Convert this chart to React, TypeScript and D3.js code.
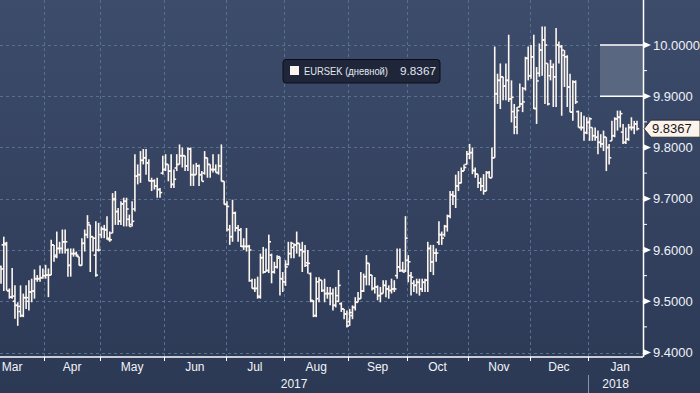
import React from 'react';
import * as d3 from 'd3';

const opens = [
  9.567,9.610,9.610,9.520,9.508,9.500,9.492,9.480,9.472,9.507,
  9.500,9.518,9.520,9.544,9.544,9.546,9.550,9.551,9.551,9.610,
  9.590,9.603,9.603,9.616,9.600,9.570,9.593,9.593,9.587,9.570,
  9.613,9.630,9.649,9.626,9.590,9.600,9.630,9.641,9.640,9.620,
  9.633,9.700,9.675,9.656,9.690,9.695,9.660,9.650,9.680,9.744,
  9.747,9.775,9.780,9.770,9.735,9.735,9.725,9.718,9.750,9.757,
  9.767,9.754,9.728,9.760,9.767,9.784,9.784,9.764,9.797,9.747,
  9.747,9.764,9.747,9.750,9.780,9.767,9.757,9.757,9.751,9.764,
  9.734,9.689,9.640,9.626,9.672,9.643,9.639,9.607,9.607,9.607,
  9.540,9.525,9.525,9.508,9.585,9.557,9.560,9.590,9.557,9.567,
  9.587,9.544,9.538,9.572,9.593,9.605,9.610,9.613,9.600,9.597,
  9.575,9.554,9.500,9.472,9.538,9.541,9.521,9.515,9.515,9.515,
  9.492,9.500,9.495,9.485,9.475,9.460,9.472,9.488,9.498,9.505,
  9.520,9.548,9.574,9.551,9.525,9.528,9.511,9.515,9.531,9.524,
  9.521,9.524,9.550,9.567,9.560,9.560,9.580,9.550,9.535,9.531,
  9.537,9.524,9.537,9.541,9.603,9.577,9.594,9.615,9.630,9.630,
  9.646,9.666,9.708,9.705,9.725,9.731,9.754,9.767,9.787,9.790,
  9.755,9.748,9.731,9.725,9.715,9.751,9.741,9.780,9.905,9.931,
  9.938,9.920,9.931,9.895,9.870,9.840,9.879,9.885,9.915,9.974,
  9.940,9.977,9.876,9.945,9.990,10.010,9.964,9.940,9.957,9.938,
  10.000,9.997,9.980,9.977,9.918,9.869,9.928,9.870,9.839,9.839,
  9.829,9.849,9.839,9.823,9.820,9.810,9.807,9.820,9.800,9.813,
  9.823,9.856,9.859,9.830,9.810,9.816,9.839,9.839,9.846
];

const highs = [
  9.570,9.626,9.616,9.525,9.565,9.531,9.498,9.531,9.515,9.531,
  9.541,9.544,9.562,9.551,9.570,9.564,9.571,9.564,9.620,9.610,
  9.636,9.616,9.640,9.640,9.603,9.603,9.603,9.597,9.587,9.623,
  9.640,9.668,9.649,9.626,9.656,9.653,9.646,9.649,9.666,9.636,
  9.711,9.715,9.682,9.695,9.702,9.702,9.669,9.695,9.787,9.767,
  9.793,9.797,9.797,9.777,9.741,9.738,9.741,9.721,9.784,9.787,
  9.767,9.787,9.757,9.787,9.806,9.800,9.784,9.800,9.800,9.767,
  9.770,9.767,9.754,9.793,9.780,9.767,9.787,9.767,9.787,9.806,
  9.734,9.695,9.649,9.698,9.675,9.649,9.643,9.623,9.643,9.610,
  9.544,9.544,9.548,9.593,9.606,9.603,9.630,9.593,9.577,9.590,
  9.587,9.557,9.580,9.616,9.616,9.613,9.636,9.613,9.616,9.610,
  9.600,9.556,9.502,9.547,9.547,9.541,9.544,9.528,9.528,9.525,
  9.528,9.561,9.498,9.485,9.482,9.485,9.492,9.508,9.518,9.557,
  9.554,9.590,9.574,9.551,9.547,9.531,9.528,9.541,9.541,9.531,
  9.544,9.541,9.603,9.603,9.577,9.666,9.590,9.557,9.541,9.544,
  9.544,9.544,9.544,9.616,9.610,9.610,9.603,9.656,9.636,9.649,
  9.669,9.715,9.715,9.747,9.754,9.761,9.767,9.793,9.807,9.800,
  9.761,9.748,9.741,9.748,9.754,9.754,9.800,9.997,9.944,9.964,
  9.938,9.964,10.020,9.931,9.885,9.879,9.925,9.918,9.977,9.997,
  10.000,10.020,9.957,10.003,10.036,10.036,9.964,9.971,9.964,10.033,
  10.007,10.000,9.990,9.980,9.944,9.931,9.931,9.872,9.869,9.862,
  9.859,9.859,9.839,9.839,9.833,9.826,9.833,9.820,9.807,9.852,
  9.859,9.872,9.872,9.846,9.839,9.846,9.859,9.852,9.852
];

const lows = [
  9.534,9.520,9.521,9.505,9.505,9.466,9.452,9.469,9.469,9.485,
  9.482,9.498,9.505,9.538,9.538,9.544,9.544,9.508,9.551,9.577,
  9.584,9.593,9.593,9.593,9.548,9.548,9.587,9.587,9.570,9.570,
  9.597,9.623,9.557,9.597,9.548,9.597,9.623,9.623,9.620,9.616,
  9.633,9.649,9.649,9.649,9.646,9.646,9.646,9.646,9.675,9.728,
  9.731,9.767,9.747,9.734,9.715,9.718,9.702,9.702,9.747,9.754,
  9.734,9.721,9.721,9.754,9.767,9.761,9.754,9.754,9.725,9.725,
  9.747,9.725,9.734,9.747,9.741,9.741,9.751,9.751,9.747,9.734,
  9.689,9.636,9.610,9.616,9.636,9.616,9.606,9.600,9.597,9.538,
  9.525,9.518,9.505,9.505,9.554,9.557,9.555,9.535,9.554,9.564,
  9.511,9.518,9.530,9.570,9.584,9.584,9.593,9.587,9.557,9.567,
  9.554,9.498,9.469,9.469,9.498,9.518,9.498,9.505,9.492,9.482,
  9.488,9.498,9.479,9.465,9.449,9.452,9.465,9.482,9.498,9.505,
  9.518,9.531,9.531,9.521,9.515,9.502,9.498,9.515,9.508,9.505,
  9.515,9.518,9.544,9.557,9.557,9.557,9.537,9.511,9.518,9.515,
  9.511,9.518,9.518,9.518,9.557,9.551,9.577,9.610,9.610,9.626,
  9.636,9.662,9.688,9.682,9.715,9.730,9.754,9.767,9.777,9.748,
  9.741,9.721,9.715,9.708,9.715,9.741,9.741,9.780,9.885,9.875,
  9.892,9.892,9.889,9.849,9.826,9.826,9.879,9.869,9.911,9.931,
  9.934,9.875,9.846,9.938,9.940,9.885,9.882,9.931,9.879,9.879,
  9.964,9.862,9.918,9.879,9.869,9.852,9.885,9.839,9.833,9.813,
  9.826,9.813,9.813,9.813,9.787,9.800,9.793,9.754,9.767,9.813,
  9.820,9.833,9.839,9.807,9.807,9.813,9.833,9.826,9.833
];

const closes = [
  9.563,9.613,9.521,9.508,9.510,9.492,9.490,9.472,9.507,9.507,
  9.518,9.520,9.544,9.544,9.546,9.550,9.551,9.551,9.610,9.587,
  9.603,9.603,9.616,9.616,9.570,9.593,9.593,9.590,9.570,9.613,
  9.630,9.653,9.626,9.623,9.551,9.600,9.641,9.639,9.623,9.620,
  9.698,9.675,9.656,9.690,9.695,9.680,9.646,9.656,9.744,9.747,
  9.775,9.780,9.770,9.735,9.735,9.725,9.718,9.712,9.757,9.767,
  9.754,9.728,9.738,9.767,9.784,9.784,9.764,9.797,9.747,9.747,
  9.764,9.747,9.734,9.780,9.767,9.757,9.757,9.751,9.764,9.734,
  9.689,9.685,9.626,9.672,9.643,9.639,9.607,9.607,9.607,9.600,
  9.525,9.525,9.510,9.585,9.557,9.560,9.616,9.557,9.567,9.584,
  9.544,9.538,9.567,9.593,9.613,9.610,9.613,9.600,9.597,9.570,
  9.574,9.502,9.472,9.505,9.541,9.521,9.515,9.515,9.515,9.492,
  9.511,9.531,9.485,9.475,9.452,9.478,9.488,9.498,9.505,9.520,
  9.548,9.574,9.551,9.525,9.528,9.511,9.515,9.531,9.524,9.521,
  9.524,9.524,9.567,9.560,9.557,9.623,9.577,9.547,9.531,9.537,
  9.524,9.537,9.541,9.603,9.577,9.594,9.594,9.630,9.623,9.646,
  9.666,9.708,9.705,9.725,9.731,9.754,9.761,9.787,9.790,9.755,
  9.748,9.731,9.725,9.715,9.751,9.741,9.780,9.905,9.931,9.938,
  9.920,9.931,9.895,9.898,9.859,9.872,9.885,9.889,9.974,9.940,
  9.977,9.876,9.930,9.990,10.010,10.000,9.885,9.957,9.938,10.000,
  9.997,9.990,9.977,9.918,9.869,9.928,9.889,9.839,9.839,9.829,
  9.849,9.856,9.823,9.820,9.810,9.807,9.820,9.800,9.780,9.823,
  9.856,9.859,9.866,9.810,9.816,9.839,9.839,9.846,9.8367
];

const yTicks = [9.4, 9.5, 9.6, 9.7, 9.8, 9.9, 10.0];
const yMinorTicks = [9.45, 9.55, 9.65, 9.75, 9.85, 9.95];
const firstDate = [2017, 2, 10];
const seriesLabel = 'EURSEK (дневной)';
const lastLabel = '9.8367';
const lastValue = 9.8367;
const bandRange = [9.9, 10.0];

const FONT = '"Liberation Sans", Arial, sans-serif';

export default function App() {
  const W = 700, H = 393;
  const axisX = 643;
  const axisY = 357;
  const n = closes.length;
  const x = d3.scaleLinear().domain([0, n - 1]).range([1, 637]);
  const y = d3.scaleLinear().domain([9.4, 10.0]).range([352.5, 45]);

  const isWd = (d: Date) => d.getDay() !== 0 && d.getDay() !== 6;
  const start = new Date(firstDate[0], firstDate[1], firstDate[2]);
  const dates: Date[] = [];
  let cur = start;
  while (dates.length < n) {
    if (isWd(cur)) dates.push(cur);
    cur = d3.timeDay.offset(cur, 1);
  }
  const wdIndex = (d: Date) => {
    if (d >= start) {
      return d3.timeDay.range(start, d).filter(isWd).length;
    }
    return -d3.timeDay.range(d, start).filter(isWd).length;
  };

  const bounds: number[] = [];
  for (let i = 1; i < n; i++) {
    if (dates[i].getMonth() !== dates[i - 1].getMonth()) bounds.push(i - 0.5);
  }
  const months = d3.timeMonth.range(
    d3.timeMonth.floor(dates[0]),
    d3.timeMonth.offset(d3.timeMonth.floor(dates[n - 1]), 1)
  );
  const fmt = d3.timeFormat('%b');
  const monthLabels = months.map((m) => {
    const days = d3.timeDay.range(m, d3.timeMonth.offset(m, 1)).filter(isWd);
    const f = wdIndex(days[0]);
    const c = days.length;
    return { label: fmt(m), xc: x(f - 0.5 + c / 2) };
  });
  let yearBoundX = axisX;
  for (let i = 1; i < n; i++) {
    if (dates[i].getFullYear() !== dates[i - 1].getFullYear()) yearBoundX = x(i - 0.5);
  }
  const years = [
    { label: String(dates[0].getFullYear()), xc: yearBoundX / 2 },
    { label: String(dates[n - 1].getFullYear()), xc: (yearBoundX + axisX) / 2 },
  ];

  const barColor = '#fdf6ef';
  const gridColor = '#56708f';
  const ly = y(lastValue);

  return (
    <div style={{ position: 'fixed', left: 0, top: 0 }}>
      <svg width={W} height={H} style={{ display: 'block' }}>
        <defs>
          <linearGradient id="bg" x1="0" y1="0" x2="0" y2="1">
            <stop offset="0" stopColor="#3e4c6c" />
            <stop offset="1" stopColor="#2b3955" />
          </linearGradient>
        </defs>
        <rect x={0} y={0} width={W} height={H} fill="url(#bg)" />

        {yTicks.map((t) => (
          <line key={'hg' + t} x1={0} x2={axisX} y1={Math.round(y(t)) + 0.5} y2={Math.round(y(t)) + 0.5}
            stroke={gridColor} strokeDasharray="3,3" strokeWidth={1} />
        ))}
        {bounds.map((b) => (
          <line key={'vg' + b} x1={Math.round(x(b)) + 0.5} x2={Math.round(x(b)) + 0.5} y1={0} y2={axisY}
            stroke={gridColor} strokeDasharray="3,3" strokeWidth={1} />
        ))}

        <rect x={600} y={y(bandRange[1])} width={axisX - 600} height={y(bandRange[0]) - y(bandRange[1])} fill="#5a6781" />
        <line x1={600} x2={axisX} y1={y(bandRange[1])} y2={y(bandRange[1])} stroke="#ffffff" strokeWidth={1.5} />
        <line x1={600} x2={axisX} y1={y(bandRange[0])} y2={y(bandRange[0])} stroke="#ffffff" strokeWidth={1.5} />

        <g stroke={barColor} strokeWidth={1.6}>
          {closes.map((c, i) => {
            const xi = x(i);
            return (
              <g key={i}>
                <line x1={xi} x2={xi} y1={y(highs[i])} y2={y(lows[i])} />
                <line x1={xi - 2.2} x2={xi} y1={y(opens[i])} y2={y(opens[i])} />
                <line x1={xi} x2={xi + 2.2} y1={y(c)} y2={y(c)} />
              </g>
            );
          })}
        </g>

        <rect x={283} y={59.5} width={157} height={23.5} rx={3} fill="#1f2639" stroke="#0c0e14" strokeWidth={1} />
        <rect x={290} y={66} width={9} height={9} fill="#fdf5ef" />
        <text x={304} y={75} fontFamily={FONT} fontSize={11} fill="#e3e8f0" textLength={84} lengthAdjust="spacingAndGlyphs">{seriesLabel}</text>
        <text x={400} y={75} fontFamily={FONT} fontSize={11} fill="#e3e8f0" textLength={36} lengthAdjust="spacingAndGlyphs">{lastLabel}</text>

        <line x1={axisX + 0.5} x2={axisX + 0.5} y1={0} y2={axisY} stroke="#ffffff" strokeWidth={1.5} />
        {yMinorTicks.map((t) => (
          <line key={'mt' + t} x1={axisX} x2={axisX + 4} y1={y(t)} y2={y(t)} stroke="#ffffff" strokeWidth={1} />
        ))}
        {yTicks.map((t) => (
          <g key={'yt' + t}>
            <path d={`M${axisX},${y(t) - 3.5}L${axisX + 8},${y(t)}L${axisX},${y(t) + 3.5}Z`} fill="#ffffff" />
            <text x={653} y={y(t)} dy="0.36em" fontFamily={FONT} fontSize={13} fill="#eef2f8">{t.toFixed(4)}</text>
          </g>
        ))}

        <path d={`M${axisX + 1},${ly}L${axisX + 8},${ly - 8.5}L${W},${ly - 8.5}L${W},${ly + 8.5}L${axisX + 8},${ly + 8.5}Z`}
          fill="#fdf3ea" stroke="#1a1f2c" strokeWidth={0.8} />
        <text x={652} y={ly} dy="0.36em" fontFamily={FONT} fontSize={13} fill="#15161a">{lastLabel}</text>

        <line x1={0} x2={axisX} y1={axisY} y2={axisY} stroke="#ffffff" strokeWidth={1.5} />
        {bounds.map((b) => (
          <line key={'bt' + b} x1={Math.round(x(b)) + 0.5} x2={Math.round(x(b)) + 0.5} y1={axisY} y2={axisY + 4} stroke="#ffffff" strokeWidth={1} />
        ))}
        {monthLabels.map((m) => (
          <text key={m.label} x={m.xc} y={371} textAnchor="middle" fontFamily={FONT} fontSize={12} fill="#f2f4f8">{m.label}</text>
        ))}
        <line x1={Math.round(yearBoundX) + 0.5} x2={Math.round(yearBoundX) + 0.5} y1={375} y2={H} stroke="#8a94a6" strokeWidth={1} />
        {years.map((yr) => (
          <text key={yr.label} x={yr.xc} y={388} textAnchor="middle" fontFamily={FONT} fontSize={12} fill="#f2f4f8">{yr.label}</text>
        ))}
      </svg>
    </div>
  );
}
